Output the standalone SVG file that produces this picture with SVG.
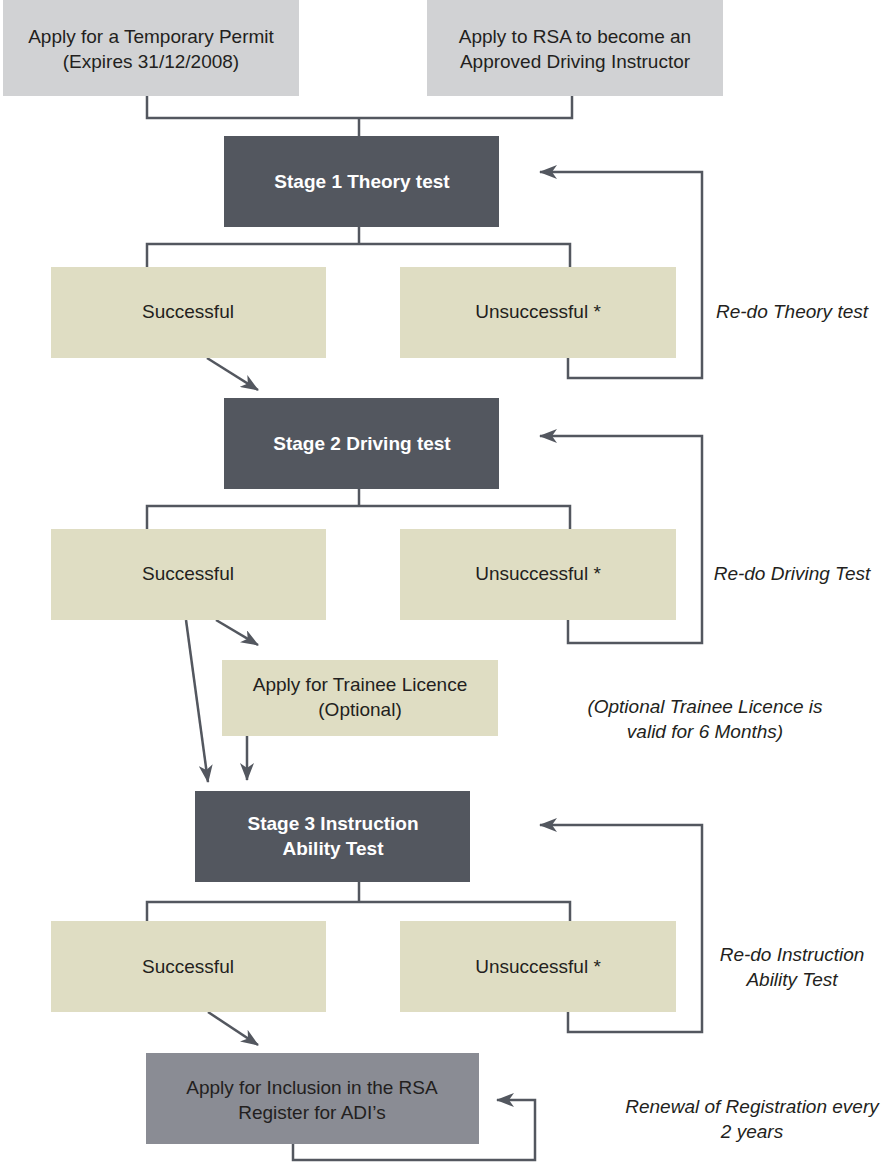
<svg xmlns="http://www.w3.org/2000/svg" width="895" height="1162" viewBox="0 0 895 1162">
<style>
.t{font-family:"Liberation Sans","DejaVu Sans",sans-serif;font-size:19px;fill:#231f20;text-anchor:middle}
.w{fill:#ffffff;font-weight:bold}
.i{font-style:italic}
.top{fill:#d1d2d4}
.dark{fill:#53575f}
.beige{fill:#dfddc3}
.reg{fill:#8a8c94}
.c{fill:none;stroke:#53575f;stroke-width:2.5}
</style>
<defs>
<marker id="ahb" viewBox="0 0 18 14" refX="17" refY="7" markerWidth="18" markerHeight="14" markerUnits="userSpaceOnUse" orient="auto">
<path d="M0,0 L18,7 L0,14 L5,7 z" fill="#53575f"/>
</marker>
</defs>
<g id="connectors">
<path class="c" d="M147,96 V118 H572 V96"/>
<path class="c" d="M359,118 V136"/>
<path class="c" d="M359,227 V244"/>
<path class="c" d="M147,267 V244 H570 V267"/>
<path class="c" d="M568,358 V378 H702 V172 H540" marker-end="url(#ahb)"/>
<path class="c" d="M207,358 L258,390" marker-end="url(#ahb)"/>
<path class="c" d="M359,489 V506"/>
<path class="c" d="M147,529 V506 H570 V529"/>
<path class="c" d="M568,620 V643 H702 V436 H540" marker-end="url(#ahb)"/>
<path class="c" d="M216,620 L258,645" marker-end="url(#ahb)"/>
<path class="c" d="M186,620 L208,782" marker-end="url(#ahb)"/>
<path class="c" d="M247,736 V780" marker-end="url(#ahb)"/>
<path class="c" d="M359,882 V902"/>
<path class="c" d="M147,921 V902 H570 V921"/>
<path class="c" d="M568,1012 V1032 H702 V825 H540" marker-end="url(#ahb)"/>
<path class="c" d="M208,1012 L258,1045" marker-end="url(#ahb)"/>
<path class="c" d="M293,1144 V1160 H535 V1100 H497" marker-end="url(#ahb)"/>
</g>
<g id="temp-permit"><rect class="top" x="3" y="0" width="296" height="96"/>
<text class="t" x="151" y="43">Apply for a Temporary Permit</text>
<text class="t" x="151" y="68">(Expires 31/12/2008)</text></g>
<g id="apply-rsa"><rect class="top" x="427" y="0" width="296" height="96"/>
<text class="t" x="575" y="43">Apply to RSA to become an</text>
<text class="t" x="575" y="68">Approved Driving Instructor</text></g>
<g id="stage1"><rect class="dark" x="224" y="136" width="275" height="91"/>
<text class="t w" x="362" y="188">Stage 1 Theory test</text></g>
<g id="s1-success"><rect class="beige" x="51" y="267" width="275" height="91"/>
<text class="t" x="188" y="318">Successful</text></g>
<g id="s1-fail"><rect class="beige" x="400" y="267" width="276" height="91"/>
<text class="t" x="538" y="318">Unsuccessful *</text></g>
<text class="t i" x="792" y="318">Re-do Theory test</text>
<g id="stage2"><rect class="dark" x="224" y="398" width="275" height="91"/>
<text class="t w" x="362" y="450">Stage 2 Driving test</text></g>
<g id="s2-success"><rect class="beige" x="51" y="529" width="275" height="91"/>
<text class="t" x="188" y="580">Successful</text></g>
<g id="s2-fail"><rect class="beige" x="400" y="529" width="276" height="91"/>
<text class="t" x="538" y="580">Unsuccessful *</text></g>
<text class="t i" x="792" y="580">Re-do Driving Test</text>
<g id="trainee"><rect class="beige" x="222" y="660" width="276" height="76"/>
<text class="t" x="360" y="691">Apply for Trainee Licence</text>
<text class="t" x="360" y="716">(Optional)</text></g>
<text class="t i" x="705" y="713">(Optional Trainee Licence is</text>
<text class="t i" x="705" y="738">valid for 6 Months)</text>
<g id="stage3"><rect class="dark" x="195" y="791" width="275" height="91"/>
<text class="t w" x="333" y="830">Stage 3 Instruction</text>
<text class="t w" x="333" y="855">Ability Test</text></g>
<g id="s3-success"><rect class="beige" x="51" y="921" width="275" height="91"/>
<text class="t" x="188" y="973">Successful</text></g>
<g id="s3-fail"><rect class="beige" x="400" y="921" width="276" height="91"/>
<text class="t" x="538" y="973">Unsuccessful *</text></g>
<text class="t i" x="792" y="961">Re-do Instruction</text>
<text class="t i" x="792" y="986">Ability Test</text>
<g id="register"><rect class="reg" x="146" y="1053" width="333" height="91"/>
<text class="t" x="312" y="1094">Apply for Inclusion in the RSA</text>
<text class="t" x="312" y="1119">Register for ADI’s</text></g>
<text class="t i" x="752" y="1113">Renewal of Registration every</text>
<text class="t i" x="752" y="1138">2 years</text>
</svg>
